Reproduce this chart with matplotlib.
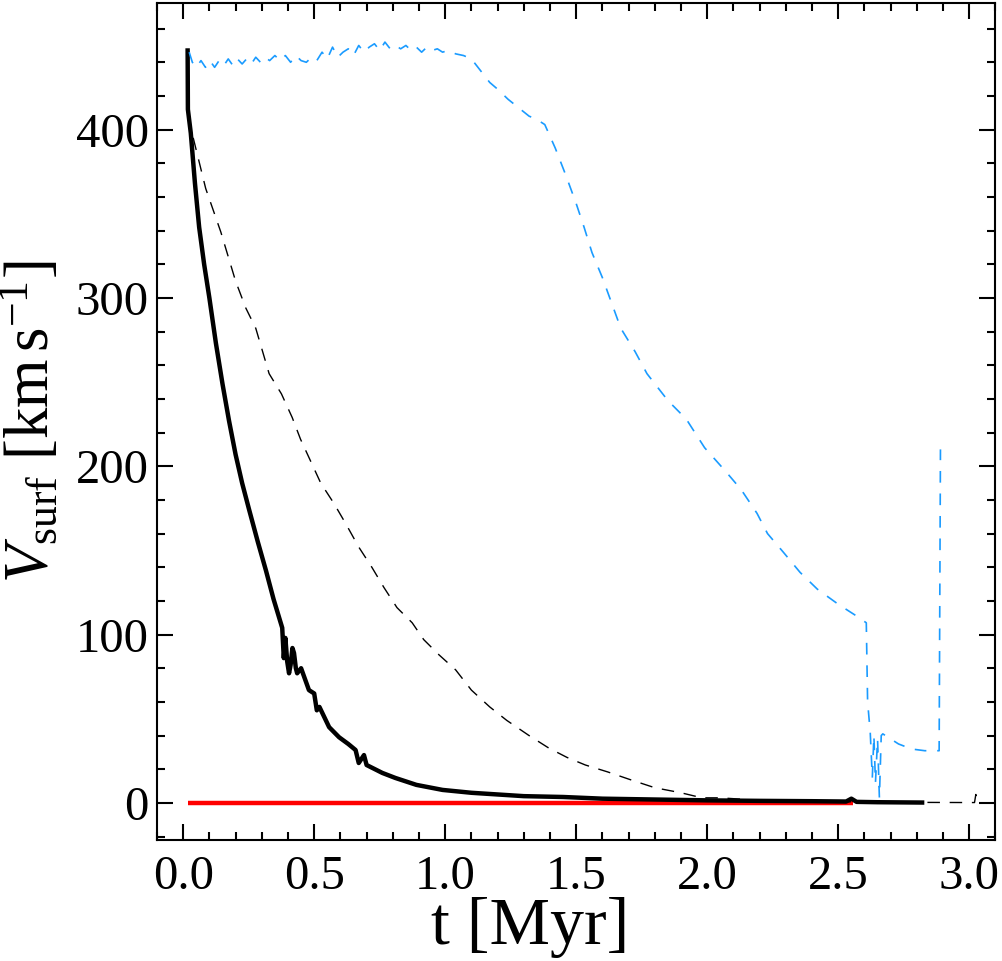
import matplotlib
matplotlib.use("Agg")
import matplotlib.pyplot as plt
from matplotlib.ticker import MultipleLocator

plt.rcParams['font.family'] = ['Liberation Serif', 'DejaVu Serif']
plt.rcParams['mathtext.fontset'] = 'custom'
plt.rcParams['mathtext.rm'] = 'Liberation Serif'
plt.rcParams['mathtext.it'] = 'Liberation Serif:italic'

# ---- data ----
thick_t = [0.017, 0.018, 0.029, 0.045, 0.061, 0.08, 0.10, 0.125, 0.15, 0.175, 0.20, 0.225, 0.252,
           0.285, 0.316, 0.345, 0.378, 0.384, 0.39, 0.397, 0.404, 0.41, 0.417, 0.423, 0.43,
           0.435, 0.45, 0.48, 0.50, 0.51, 0.52, 0.557, 0.595, 0.63, 0.658, 0.67, 0.69, 0.70,
           0.76, 0.81, 0.89, 0.99, 1.1, 1.2, 1.3, 1.45, 1.6, 1.8, 2.0, 2.2, 2.4, 2.53, 2.55,
           2.57, 2.65, 2.82]
thick_v = [447, 412, 398, 368, 342, 320, 300, 273, 249, 227, 207, 190, 174,
           155, 138, 121, 104, 86, 98, 84, 77, 82, 92, 89, 80,
           77, 80, 67, 65, 55, 57, 45, 39, 35, 31.4, 23.7, 28.4, 22.5,
           17.8, 14.8, 10.7, 7.7, 6, 5, 4, 3.5, 2.5, 2, 1.5, 1.2, 1, 0.8, 2.5,
           0.6, 0.4, 0.2]

dash_t = [0.02, 0.029, 0.086, 0.144, 0.2, 0.239, 0.277, 0.328, 0.375, 0.416, 0.448, 0.525,
          0.575, 0.62, 0.67, 0.72, 0.766, 0.816, 0.874, 0.918, 0.976, 1.04, 1.10, 1.17,
          1.235, 1.32, 1.395, 1.465, 1.535, 1.62, 1.71, 1.80, 1.90, 1.98, 2.05, 2.2, 2.4,
          2.6, 2.8, 3.0, 3.02, 3.025, 3.03]
dash_v = [408, 401, 365, 339, 310, 294, 282, 255, 243, 229, 216, 190,
          178, 166, 152, 140, 128, 116, 107, 97, 88, 79, 67, 57,
          49, 40, 32.6, 27, 22.5, 18.4, 13.6, 9, 6, 3, 3, 1.5, 1,
          0.5, 0.3, 0.2, 0.2, 5, 0.3]

blue_t = [0.023, 0.035, 0.05, 0.068, 0.085, 0.102, 0.12, 0.137, 0.155, 0.172, 0.19, 0.207,
          0.225, 0.242, 0.26, 0.277, 0.295, 0.312, 0.33, 0.35, 0.37, 0.39, 0.41, 0.43,
          0.45, 0.47, 0.49, 0.51, 0.53, 0.55, 0.57, 0.59, 0.61, 0.63, 0.65, 0.67, 0.69,
          0.71, 0.73, 0.75, 0.77, 0.79, 0.81, 0.83, 0.85, 0.87, 0.89, 0.91, 0.93, 0.95,
          0.97, 0.99, 1.01, 1.04, 1.07, 1.1, 1.12, 1.15, 1.17, 1.2, 1.24, 1.28, 1.32,
          1.35, 1.38, 1.42, 1.46, 1.5, 1.53, 1.56, 1.6, 1.635, 1.67, 1.725, 1.77, 1.85,
          1.92, 1.99, 2.07, 2.13, 2.19, 2.23, 2.29, 2.354, 2.42, 2.5, 2.57, 2.607, 2.612,
          2.622, 2.63, 2.636, 2.642, 2.65, 2.657, 2.664, 2.67, 2.7, 2.73, 2.78, 2.83,
          2.885, 2.89]
blue_v = [446, 440, 437, 441, 437, 441, 437, 441, 438, 442, 438, 442,
          439, 442, 439, 443, 440, 443, 441, 444, 441, 444, 440, 444,
          441, 440, 443, 441, 446, 442, 449, 443, 446, 448, 444, 450, 446,
          449, 451, 447, 452, 448, 450, 448, 450, 447, 449, 446, 449, 447,
          448, 446, 447, 445, 444, 442, 438, 432, 428, 424, 418, 413, 408,
          406, 403, 389, 373, 356, 342, 327, 312, 297, 282, 268, 255, 239,
          228, 211, 197, 186, 172, 160, 149, 137, 127, 118, 111, 107, 60,
          42, 15, 40, 12, 38, 3, 40, 41, 38, 35, 32, 31,
          31, 210]

red_t = [0.02, 2.557]
red_v = [0.0, 0.0]

xticks = [0.0, 0.5, 1.0, 1.5, 2.0, 2.5, 3.0]
yticks = [0, 100, 200, 300, 400]

# ---- figure ----
fig = plt.figure(figsize=(10.03, 9.61), dpi=100)
ax = fig.add_axes([0.1565, 0.126, 0.836, 0.8705])

ax.plot(red_t, red_v, color='#FF0000', lw=3.2, solid_capstyle='butt', zorder=2)
ax.plot(thick_t, thick_v, color='black', lw=3.2, zorder=3)
ax.plot(dash_t, dash_v, color='black', lw=1.0, dashes=(9, 7), zorder=3)
ax.plot(blue_t, blue_v, color='#1A9BFF', lw=1.2, dashes=(7, 6.5), zorder=4)

ax.set_xlim(-0.1, 3.1)
ax.set_ylim(-22, 475)
ax.set_xticks(xticks)
ax.set_xticklabels([f"{v:.1f}" for v in xticks])
ax.set_yticks(yticks)
ax.xaxis.set_minor_locator(MultipleLocator(0.1))
ax.yaxis.set_minor_locator(MultipleLocator(20))

ax.tick_params(which='both', direction='in', top=True, right=True, width=1.5)
ax.tick_params(which='major', length=11.5, labelsize=35)
ax.tick_params(axis='x', which='major', pad=11)
ax.tick_params(axis='y', which='major', pad=6)
ax.tick_params(which='minor', length=6)
for s in ax.spines.values():
    s.set_linewidth(1.5)

ax.set_xlabel('t [Myr]', fontsize=49)
ax.xaxis.set_label_coords(0.4446, -0.068)
ax.set_ylabel(r'$V_{\rm surf}$ [km$\,$s$^{-1}$]', fontsize=45)
ax.yaxis.set_label_coords(-0.112, 0.5)

fig.savefig('out.png', dpi=100)
